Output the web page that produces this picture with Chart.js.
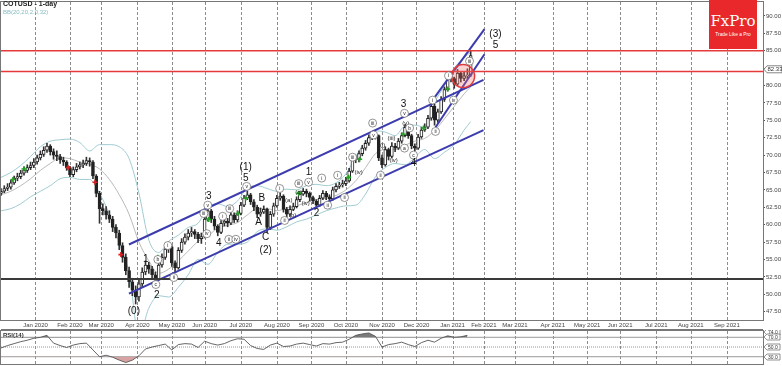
<!DOCTYPE html>
<html lang="en">
<head>
<meta charset="UTF-8">
<title>COTUSD - 1-day</title>
<style>
    html, body { margin: 0; padding: 0; background: #fff; }
    body { width: 782px; height: 366px; position: relative; overflow: hidden; font-family: "Liberation Sans", Arial, sans-serif; }
    #mainWrap { position: absolute; left: 0; top: 0; width: 782px; height: 330px; }
    #rsiWrap { position: absolute; left: 0; top: 330px; width: 782px; height: 36px; }
    .title { position: absolute; left: 3px; top: 0px; font-size: 7px; font-weight: bold; color: #222; }
    .bb { position: absolute; left: 3px; top: 9px; font-size: 6px; color: #86bcc2; }
    .logo { position: absolute; left: 709px; top: 0; width: 48px; height: 49px; background: #e8282b; color: #fff; text-align: center; }
    .logo .big { font-family: "DejaVu Serif", "Liberation Serif", serif; font-size: 15px; line-height: 15px; margin-top: 14px; }
    .logo .small { font-size: 6px; line-height: 6px; margin-top: 2px; transform: scale(0.8); white-space: nowrap; }
</style>
</head>
<body>
<div id="mainWrap"><canvas id="mainChart" width="782" height="330"></canvas></div>
<div id="rsiWrap"><canvas id="rsiChart" width="782" height="36"></canvas></div>
<div class="title">COTUSD - 1-day</div>
<div class="bb">BB(20,20,2.0,32)</div>
<div class="logo"><div class="big">FxPro</div><div class="small">Trade Like a Pro</div></div>

<script src="https://cdn.jsdelivr.net/npm/chart.js"></script>
<script>
// x unit = trading day from the left edge, candles are 2-day bars
const monthDays = [21, 42, 61, 83, 104, 124, 146, 168, 189, 210, 232, 253, 275, 294, 313, 336, 357, 377, 399, 420, 442];
const monthLabels = ['Jan 2020', 'Feb 2020', 'Mar 2020', 'Apr 2020', 'May 2020', 'Jun 2020', 'Jul 2020', 'Aug 2020',
    'Sep 2020', 'Oct 2020', 'Nov 2020', 'Dec 2020', 'Jan 2021', 'Feb 2021', 'Mar 2021', 'Apr 2021', 'May 2021',
    'Jun 2021', 'Jul 2021', 'Aug 2021', 'Sep 2021'];
const priceTicks = [47.5, 50, 52.5, 55, 57.5, 60, 62.5, 65, 67.5, 70, 72.5, 75, 77.5, 80, 82.5, 85, 87.5, 90];

const firstOpen = 64.5;
const closes = [64.8, 65.2, 65.4, 66.0, 66.7, 66.9, 67.4, 67.8, 68.2, 68.5,
    69.0, 69.6, 70.1, 70.7, 71.3, 70.5, 70.0, 69.8, 69.3, 69.0,
    68.2, 67.2, 67.9, 68.3, 68.6, 68.8, 69.2, 69.0, 67.0, 64.5,
    62.3, 62.0, 61.4, 60.8, 59.6, 58.8, 57.0, 55.3, 53.4, 51.8,
    50.6, 49.6, 51.5, 53.2, 54.2, 53.6, 52.8, 52.2, 54.2, 55.3,
    56.5, 56.8, 54.5, 53.8, 56.3, 57.5, 58.2, 58.8, 59.0, 58.6,
    58.0, 58.3, 60.8, 62.0, 60.8, 59.8, 58.9, 60.2, 60.5, 60.2,
    61.4, 60.7, 61.6, 62.8, 63.8, 64.3, 63.3, 62.5, 61.5, 61.8,
    62.2, 59.6, 61.5, 62.7, 63.8, 64.1, 62.2, 61.5, 62.2, 62.6,
    63.6, 64.4, 64.8, 64.5, 63.9, 63.4, 62.8, 63.8, 64.5, 64.0,
    63.7, 65.0, 65.5, 65.7, 65.9, 66.3, 67.7, 69.3, 69.4, 70.2,
    71.0, 71.7, 72.5, 73.0, 72.8, 69.6, 68.6, 70.8, 69.8, 71.3,
    71.0, 72.0, 72.8, 74.0, 72.8, 71.3, 71.0, 72.6, 73.6, 74.0,
    75.3, 77.0, 75.0, 76.2, 78.0, 79.4, 81.3, 81.0, 80.2, 81.8,
    81.0, 81.4, 81.5, 84.3];
const highs = [65.2, 65.6, 65.9, 66.4, 67.0, 67.4, 67.8, 68.3, 68.6, 69.0,
    69.5, 70.0, 70.6, 71.2, 71.7, 71.5, 70.9, 70.6, 70.1, 69.7,
    69.2, 68.4, 68.3, 68.8, 69.0, 69.3, 69.7, 69.6, 69.2, 67.2,
    64.8, 63.0, 62.6, 62.0, 61.2, 60.0, 59.2, 57.4, 55.8, 53.9,
    52.3, 51.2, 52.0, 53.8, 54.8, 54.6, 54.0, 53.2, 54.6, 55.8,
    57.0, 57.5, 57.0, 54.8, 56.7, 58.0, 58.7, 59.3, 59.6, 59.3,
    58.9, 58.8, 61.2, 62.6, 62.2, 61.2, 60.0, 60.6, 61.0, 60.9,
    61.8, 61.7, 62.0, 63.2, 64.2, 64.8, 64.5, 63.6, 62.8, 62.4,
    62.7, 62.4, 61.9, 63.1, 64.2, 64.6, 64.3, 62.5, 62.7, 63.1,
    64.0, 64.8, 65.2, 65.1, 64.7, 64.1, 63.6, 64.2, 64.9, 64.8,
    64.3, 65.4, 65.9, 66.1, 66.4, 66.8, 68.1, 69.7, 69.9, 70.6,
    71.4, 72.1, 72.9, 73.3, 73.2, 72.9, 70.0, 71.2, 71.0, 71.8,
    71.7, 72.4, 73.2, 74.4, 74.2, 73.0, 71.6, 73.0, 74.0, 74.5,
    75.7, 77.9, 77.3, 76.6, 78.4, 79.8, 81.8, 81.9, 81.2, 82.3,
    82.0, 81.9, 82.4, 85.0];
const lows = [64.2, 64.6, 64.9, 65.1, 65.8, 66.3, 66.6, 67.1, 67.5, 67.9,
    68.2, 68.7, 69.3, 69.8, 70.4, 70.0, 69.4, 69.2, 68.8, 68.5,
    67.8, 66.9, 66.9, 67.6, 68.0, 68.2, 68.5, 68.4, 66.6, 64.0,
    60.2, 61.4, 60.8, 60.3, 59.0, 58.1, 56.4, 54.6, 52.8, 51.0,
    49.8, 48.6, 49.0, 51.0, 52.8, 53.0, 52.3, 51.5, 52.0, 53.9,
    55.0, 56.0, 54.0, 53.1, 53.6, 56.0, 57.2, 57.8, 58.3, 58.0,
    57.4, 57.3, 58.1, 60.5, 60.3, 59.3, 58.4, 58.7, 59.8, 59.7,
    60.0, 60.3, 60.4, 61.4, 62.6, 63.6, 62.9, 62.0, 61.0, 61.2,
    61.6, 58.9, 59.3, 61.2, 62.5, 63.5, 61.8, 61.1, 61.2, 62.0,
    62.4, 63.3, 64.2, 64.0, 63.4, 63.0, 62.4, 62.6, 63.6, 63.6,
    63.3, 63.5, 64.7, 65.2, 65.4, 65.6, 66.1, 67.5, 68.9, 69.0,
    69.9, 70.7, 71.4, 72.2, 72.3, 69.2, 68.2, 68.4, 69.3, 69.6,
    70.5, 70.8, 71.7, 72.6, 72.4, 70.9, 70.6, 70.8, 72.4, 73.4,
    73.8, 75.0, 74.3, 74.7, 76.0, 77.7, 79.2, 80.5, 79.6, 80.0,
    80.5, 80.7, 81.0, 81.3];

// Bollinger bands every 6 trading days
const bandDays = [0, 6, 12, 18, 24, 30, 36, 42, 48, 54, 60, 66, 72, 78, 84, 90, 96, 102, 108, 114,
    120, 126, 132, 138, 144, 150, 156, 162, 168, 174, 180, 186, 192, 198, 204, 210, 216, 222, 228, 234,
    240, 246, 252, 258, 264, 270, 276, 282, 286];
const bbUpper = [66.8, 67.5, 68.5, 69.8, 71.2, 72.0, 72.2, 72.3, 71.8, 70.6,
    71.5, 71.5, 71.2, 69.5, 64.5, 57.8, 56.0, 57.6, 58.5, 59.6,
    60.2, 62.5, 63.0, 62.6, 63.4, 65.3, 65.6, 65.2, 64.8, 65.1,
    65.0, 65.6, 65.8, 65.6, 66.0, 67.3, 69.8, 72.0, 73.5, 73.3,
    72.8, 74.2, 74.3, 74.0, 77.5, 80.0, 82.5, 84.0, 84.8];
const bbMid = [64.3, 64.8, 65.6, 66.6, 67.8, 68.8, 69.6, 69.5, 69.0, 68.7,
    68.0, 66.5, 64.3, 61.5, 57.5, 54.8, 53.0, 53.6, 54.8, 56.2,
    57.6, 58.4, 59.5, 59.9, 60.3, 61.4, 62.3, 62.3, 62.0, 62.4,
    62.7, 63.2, 63.6, 63.8, 64.2, 65.0, 66.3, 68.2, 70.2, 70.8,
    70.8, 71.4, 72.0, 72.4, 73.5, 75.2, 77.0, 78.8, 79.8];
const bbLower = [62.0, 62.3, 63.0, 64.0, 64.8, 65.6, 66.6, 66.8, 66.5, 66.5,
    64.5, 61.5, 57.4, 53.0, 44.0, 48.0, 49.8, 49.6, 51.0, 52.8,
    55.0, 54.3, 56.0, 57.2, 57.2, 57.5, 59.0, 59.4, 59.2, 59.7,
    60.4, 60.8, 61.4, 62.0, 62.4, 62.7, 62.8, 64.4, 66.9, 68.2,
    68.8, 68.6, 69.7, 70.8, 69.5, 70.4, 71.5, 73.6, 74.8];

// trend channels: [startDay, startPrice, endDay, endPrice]
const channelUpper = [77.9, 57.15, 293.8, 80.8];
const channelLower = [77.9, 50.1, 293.8, 73.6];
const steepUpper = [262.8, 77.9, 294.4, 88.1];
const steepLower = [264.6, 74.0, 294.4, 84.5];
const resistanceHigh = 85.0;
const resistanceLow = 82.0;
const supportLevel = 52.2;
const lastPrice = 82.33;
const circleCenter = [281.4, 81.35];

// signal markers
const greenDays = [7.3, 14, 95.5, 126.5, 144.2, 149, 181.3, 211.7, 218.4, 245, 257.3, 272];
const greenPrices = [66.5, 68.0, 55.3, 60.75, 61.6, 63.8, 64.5, 66.8, 69.4, 73.0, 73.9, 79.5];
const redDays = [40.8, 57.2, 73];
const redPrices = [68.2, 66.1, 55.7];

// Elliott wave labels
const waveDays = [80.9, 88.2, 94.9, 126.5, 132.6, 149, 149, 156.9, 158.8, 161.2, 161.2, 187.3, 192.2, 245.1, 251.2, 301.1, 301.1];
const wavePrices = [47.5, 55.1, 49.8, 64.1, 57.4, 66.7, 68.2, 60.3, 63.8, 58.2, 56.3, 67.5, 61.6, 77.3, 68.8, 87.3, 85.8];
const waveTexts = ['(0)', '1', '2', '3', '4', '5', '(1)', 'A', 'B', 'C', '(2)', '1', '2', '3', '4', '(3)', '5'];

const subDays = [94.3, 95.5, 101.6, 105.2, 123.5, 125.9, 125.3, 135, 139.3, 138.7, 143, 149.6, 169.7, 172.7, 175.2,
    177.6, 181.3, 181.3, 185.5, 187.3, 195.3, 198.9, 205, 209.2, 214.1, 217.8, 226.3, 226.9, 231.1, 232.4,
    237.8, 239.1, 245.7, 246.4, 248.8, 245.7, 251.2, 262.8, 264.6, 272.5, 275.5, 285.3];
const subPrices = [51.4, 55.0, 57.0, 52.4, 61.6, 62.8, 58.7, 61.2, 62.3, 57.9, 57.9, 65.5, 65.2, 60.6, 63.5,
    61.3, 64.6, 65.9, 63.1, 66.1, 66.7, 62.8, 67.1, 63.9, 69.7, 67.5, 74.6, 72.9, 67.1, 71.4,
    72.4, 69.3, 71.0, 74.6, 73.9, 76.0, 70.0, 77.9, 73.4, 81.4, 77.9, 83.5];
const subTexts = ['c', 'b', 'i', 'ii', 'iii', 'v', 'iv', 'i', 'iii', 'ii', 'iv', 'v', 'i', 'ii', '(a)',
    '(b)', '(c)', 'iii', '(iv)', 'v', 'i', 'ii', 'i', 'ii', 'iii', '(iv)', 'iii', 'v', 'ii', '(i)',
    '(iii)', '(iv)', 'a', '(v)', 'b', 'v', 'c', 'i', 'ii', 'i', 'iv', 'iii'];

// RSI(14) read every 4 trading days
const rsiDays = [0, 4, 8, 12, 16, 20, 24, 28, 32, 36, 40, 44, 48, 52, 56, 60, 64, 68, 72, 76,
    80, 84, 88, 92, 96, 100, 104, 108, 112, 116, 120, 124, 128, 132, 136, 140, 144, 148, 152, 156,
    160, 164, 168, 172, 176, 180, 184, 188, 192, 196, 200, 204, 208, 212, 216, 220, 224, 228, 232, 236,
    240, 244, 248, 252, 256, 260, 264, 268, 272, 276, 280, 284];
const rsiValues = [48, 53, 57, 61, 64, 68, 70, 74, 58, 53,
    49, 54, 57, 58, 44, 30, 33, 29, 23, 18,
    23, 32, 46, 50, 53, 56, 44, 55, 57, 56,
    49, 62, 57, 54, 57, 63, 67, 66, 53, 47,
    45, 54, 58, 51, 52, 56, 58, 55, 52, 57,
    56, 59, 60, 66, 74, 77, 79, 72, 50, 55,
    57, 60, 55, 51, 59, 64, 60, 68, 73, 70,
    71, 74];
const rsiLevels = [70, 50, 30];

const xMin = 0, xMax = 464;
const FONT = '"Liberation Sans", Arial, sans-serif';

const opens = closes.map((c, i) => i === 0 ? firstOpen : closes[i - 1]);
const candleDays = closes.map((c, i) => i * 2);
const pts = (xs, ys) => xs.map((x, i) => ({ x: x, y: ys[i] }));
const seg = s => [{ x: s[0], y: s[1] }, { x: s[2], y: s[3] }];
const hLine = v => [{ x: xMin, y: v }, { x: xMax, y: v }];

function noPad(s) {
    s.paddingLeft = 0; s.paddingRight = 0; s.paddingTop = 0; s.paddingBottom = 0;
}

// frame + dashed month grid, drawn under the datasets
const framePlugin = {
    id: 'frame',
    beforeDatasetsDraw(chart) {
        const a = chart.chartArea, ctx = chart.ctx, xs = chart.scales.x;
        ctx.save();
        ctx.strokeStyle = '#8c8c8c';
        ctx.lineWidth = 1;
        ctx.setLineDash([3, 2]);
        for (let i = 0; i < monthDays.length; i++) {
            const px = Math.round(xs.getPixelForValue(monthDays[i])) + 0.5;
            ctx.beginPath();
            ctx.moveTo(px, a.top);
            ctx.lineTo(px, a.bottom);
            ctx.stroke();
        }
        ctx.setLineDash([]);
        ctx.strokeStyle = '#777';
        ctx.strokeRect(a.left - 0.5, a.top - 0.5, a.right - a.left + 1, a.bottom - a.top + 1);
        ctx.restore();
    }
};

const annotations = {
    id: 'annotations',
    afterDatasetsDraw(chart) {
        const ctx = chart.ctx, xs = chart.scales.x, ys = chart.scales.y, a = chart.chartArea;
        ctx.save();
        // highlight circle
        const cx = xs.getPixelForValue(circleCenter[0]), cy = ys.getPixelForValue(circleCenter[1]);
        ctx.beginPath();
        ctx.arc(cx, cy, 11.5, 0, Math.PI * 2);
        ctx.fillStyle = 'rgba(240, 110, 110, 0.30)';
        ctx.fill();
        ctx.strokeStyle = '#e33b3b';
        ctx.lineWidth = 1.5;
        ctx.stroke();

        // small sub-wave labels
        ctx.textAlign = 'center';
        ctx.textBaseline = 'middle';
        subTexts.forEach((t, i) => {
            const px = xs.getPixelForValue(subDays[i]), py = ys.getPixelForValue(subPrices[i]);
            if (t.startsWith('(')) {
                ctx.fillStyle = '#222';
                ctx.font = '6px ' + FONT;
                ctx.fillText(t, px, py);
            } else {
                ctx.beginPath();
                ctx.arc(px, py, 4, 0, Math.PI * 2);
                ctx.fillStyle = '#fff';
                ctx.fill();
                ctx.strokeStyle = '#666';
                ctx.lineWidth = 0.7;
                ctx.stroke();
                ctx.fillStyle = '#222';
                ctx.font = '5px ' + FONT;
                ctx.fillText(t, px, py + 0.3);
            }
        });

        // main wave labels
        ctx.fillStyle = '#111';
        ctx.font = '10px ' + FONT;
        waveTexts.forEach((t, i) => {
            ctx.fillText(t, xs.getPixelForValue(waveDays[i]), ys.getPixelForValue(wavePrices[i]));
        });
        ctx.restore();
    },
    afterDraw(chart) {
        const ctx = chart.ctx, xs = chart.scales.x, ys = chart.scales.y, a = chart.chartArea;
        ctx.save();
        // month labels under the plot
        ctx.fillStyle = '#444';
        ctx.font = '6px ' + FONT;
        ctx.textAlign = 'center';
        ctx.textBaseline = 'middle';
        monthLabels.forEach((t, i) => {
            ctx.fillText(t, xs.getPixelForValue(monthDays[i]), a.bottom + 5);
        });

        // last price tag on the axis
        const ty = ys.getPixelForValue(lastPrice);
        ctx.strokeStyle = '#666';
        ctx.lineWidth = 0.8;
        ctx.fillStyle = '#fff';
        ctx.beginPath();
        ctx.moveTo(a.right + 1, ty);
        ctx.lineTo(a.right + 4, ty - 3.5);
        ctx.lineTo(a.right + 19, ty - 3.5);
        ctx.lineTo(a.right + 19, ty + 3.5);
        ctx.lineTo(a.right + 4, ty + 3.5);
        ctx.closePath();
        ctx.fill();
        ctx.stroke();
        ctx.fillStyle = '#333';
        ctx.textAlign = 'left';
        ctx.fillText(lastPrice.toFixed(2), a.right + 4.5, ty + 0.5);

        // line under the date labels
        ctx.strokeStyle = '#777';
        ctx.lineWidth = 1;
        ctx.beginPath();
        ctx.moveTo(a.left, chart.height - 0.5);
        ctx.lineTo(a.right, chart.height - 0.5);
        ctx.stroke();
        ctx.restore();
    }
};

const lineDs = (data, color, width, order, extra) => Object.assign({
    type: 'line', data: data, borderColor: color, borderWidth: width,
    pointRadius: 0, fill: false, order: order
}, extra || {});

new Chart(document.getElementById('mainChart'), {
    type: 'bar',
    data: {
        datasets: [
            lineDs(hLine(resistanceHigh), '#e53a3a', 1.5, 0),
            lineDs(hLine(resistanceLow), '#e53a3a', 1.5, 0),
            lineDs(hLine(supportLevel), '#3a3a3a', 2, 0),
            lineDs(seg(channelUpper), '#3c3cae', 2, 0),
            lineDs(seg(channelLower), '#3c3cae', 2, 0),
            lineDs(seg(steepUpper), '#3c3cae', 2, 0),
            lineDs(seg(steepLower), '#3c3cae', 2, 0),
            {
                type: 'scatter', data: pts(greenDays, greenPrices), pointStyle: 'cross',
                pointRadius: 2.5, borderColor: '#22a322', borderWidth: 1.6, order: 1
            },
            {
                type: 'scatter', data: pts(redDays, redPrices), pointStyle: 'cross',
                pointRadius: 2.5, borderColor: '#d82222', borderWidth: 1.6, order: 1
            },
            {
                type: 'bar',
                data: candleDays.map((d, i) => ({ x: d, y: [opens[i], closes[i]] })),
                backgroundColor: closes.map((c, i) => c >= opens[i] ? '#ffffff' : '#222222'),
                borderColor: '#222', borderWidth: 1, borderSkipped: false,
                barThickness: 3, grouped: false, order: 2
            },
            {
                type: 'bar',
                data: candleDays.map((d, i) => ({ x: d, y: [lows[i], highs[i]] })),
                backgroundColor: '#333', barThickness: 1, grouped: false, order: 3
            },
            lineDs(pts(bandDays, bbUpper), '#9fcbd1', 1, 5, { cubicInterpolationMode: 'monotone' }),
            lineDs(pts(bandDays, bbMid), '#a8a8a8', 0.8, 5, { cubicInterpolationMode: 'monotone' }),
            lineDs(pts(bandDays, bbLower), '#9fcbd1', 1, 5, { cubicInterpolationMode: 'monotone' })
        ]
    },
    options: {
        responsive: false,
        animation: false,
        events: [],
        layout: { autoPadding: false, padding: { left: 1, top: 2, right: 0, bottom: 0 } },
        plugins: { legend: { display: false }, tooltip: { enabled: false } },
        scales: {
            x: {
                type: 'linear', min: xMin, max: xMax, offset: false,
                afterFit: s => { s.height = 10; noPad(s); },
                grid: { display: false },
                border: { display: false },
                ticks: { display: false }
            },
            y: {
                position: 'right', min: 46.3, max: 92,
                afterBuildTicks: s => { s.ticks = priceTicks.map(v => ({ value: v })); },
                afterFit: s => { s.width = 19; noPad(s); },
                grid: { drawOnChartArea: false, tickLength: 2, color: '#555' },
                border: { display: true, color: '#555' },
                ticks: {
                    padding: 1, color: '#444', font: { size: 6, family: FONT },
                    callback: v => Number(v).toFixed(2)
                }
            }
        }
    },
    plugins: [framePlugin, annotations]
});

const rsiPlugin = {
    id: 'rsiText',
    afterDraw(chart) {
        const ctx = chart.ctx, a = chart.chartArea, ys = chart.scales.y;
        ctx.save();
        ctx.fillStyle = '#333';
        ctx.font = 'bold 6px ' + FONT;
        ctx.textBaseline = 'top';
        ctx.fillText('RSI(14)', 3, 2);
        ctx.font = '5px ' + FONT;
        ctx.textBaseline = 'middle';
        const tags = [rsiValues[rsiValues.length - 1]].concat(rsiLevels);
        tags.forEach((v, i) => {
            const ty = Math.round(ys.getPixelForValue(v)) + (i === 0 ? -3 : 0);
            ctx.fillStyle = '#fff';
            ctx.strokeStyle = '#666';
            ctx.lineWidth = 0.7;
            ctx.beginPath();
            ctx.moveTo(a.right + 1, ty);
            ctx.lineTo(a.right + 4, ty - 3);
            ctx.lineTo(a.right + 17, ty - 3);
            ctx.lineTo(a.right + 17, ty + 3);
            ctx.lineTo(a.right + 4, ty + 3);
            ctx.closePath();
            ctx.fill();
            ctx.stroke();
            ctx.fillStyle = '#333';
            ctx.fillText(v.toFixed(1), a.right + 5, ty + 0.3);
        });
        ctx.restore();
    }
};

new Chart(document.getElementById('rsiChart'), {
    type: 'line',
    data: {
        datasets: [
            lineDs(hLine(rsiLevels[0]), '#999', 1, 3),
            lineDs(hLine(rsiLevels[1]), '#999', 1, 3, { borderDash: [1, 1] }),
            lineDs(hLine(rsiLevels[2]), '#999', 1, 3),
            lineDs(pts(rsiDays, rsiValues), '#555', 0.9, 1, {
                fill: { target: { value: rsiLevels[0] }, above: '#7a7a7a', below: 'rgba(0,0,0,0)' }
            }),
            lineDs(pts(rsiDays, rsiValues), 'rgba(0,0,0,0)', 0, 2, {
                fill: { target: { value: rsiLevels[2] }, above: 'rgba(0,0,0,0)', below: '#d9a2a2' }
            })
        ]
    },
    options: {
        responsive: false,
        animation: false,
        events: [],
        layout: { autoPadding: false, padding: { left: 1, top: 1, right: 0, bottom: 2 } },
        plugins: { legend: { display: false }, tooltip: { enabled: false } },
        scales: {
            x: {
                type: 'linear', min: xMin, max: xMax,
                afterFit: s => { s.height = 0; noPad(s); },
                grid: { display: false },
                border: { display: false },
                ticks: { display: false }
            },
            y: {
                position: 'right', min: 15, max: 83,
                afterFit: s => { s.width = 19; noPad(s); },
                grid: { display: false },
                border: { display: true, color: '#555' },
                ticks: { display: false }
            }
        }
    },
    plugins: [framePlugin, rsiPlugin]
});
</script>
</body>
</html>
